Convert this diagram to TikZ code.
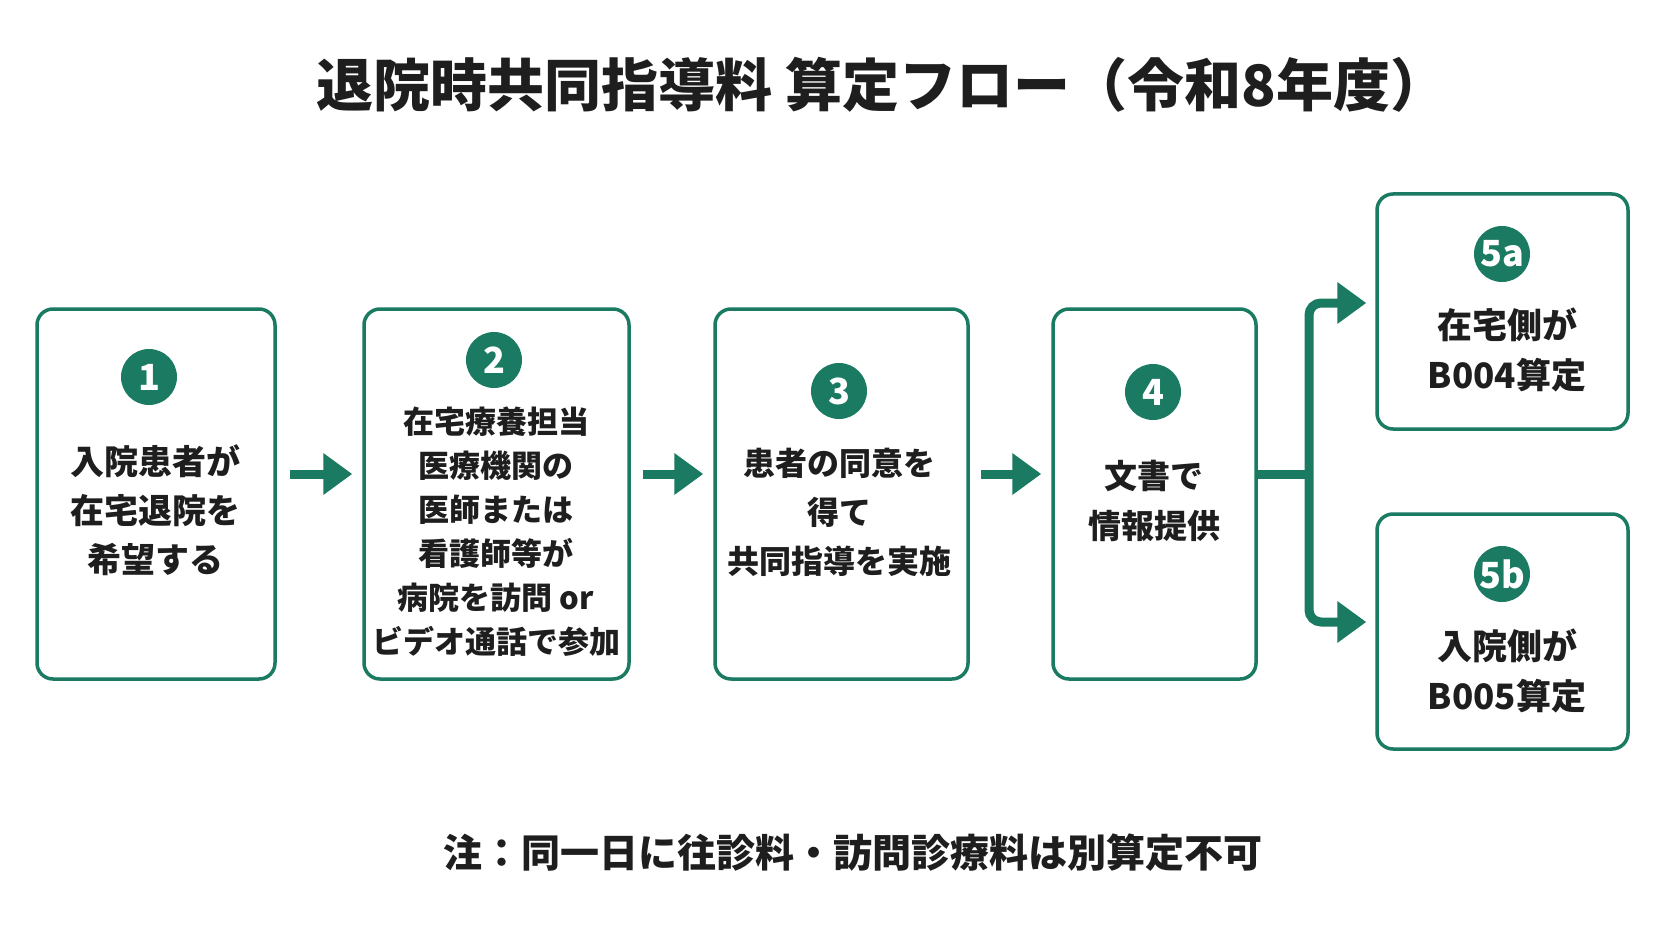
\documentclass[tikz,border=0pt]{standalone}
\usepackage{fontspec}
\setmainfont{Noto Sans CJK JP}
\usetikzlibrary{arrows.meta}
\definecolor{grn}{RGB}{26,122,98}
\definecolor{ink}{RGB}{30,30,30}
\tikzset{
  stepbox/.style={draw=grn, line width=3.5pt, rounded corners=16pt, fill=white},
  num/.style={circle, fill=grn, text=white, minimum size=56pt, inner sep=0pt,
    font=\bfseries\fontsize{36}{36}\selectfont},
  txt/.style={text=ink, align=center, inner sep=0pt},
  conn/.style={draw=grn, line width=9pt},
  arr/.style={conn, -{Triangle[length=29pt,width=40pt]}},
}
\begin{document}
\begin{tikzpicture}[x=1pt,y=-1pt]
\useasboundingbox[fill=white] (0,0) rectangle (1672,941);
% title
\node[txt, font=\bfseries\fontsize{57}{57}\selectfont] (title) at (882,85) {退院時共同指導料 算定フロー（令和8年度）};
% boxes
\node[stepbox, minimum width=238pt, minimum height=370pt] (b1) at (156,494) {};
\node[stepbox, minimum width=265pt, minimum height=370pt] (b2) at (496.5,494) {};
\node[stepbox, minimum width=253pt, minimum height=370pt] (b3) at (841.5,494) {};
\node[stepbox, minimum width=203pt, minimum height=370pt] (b4) at (1154.5,494) {};
\node[stepbox, minimum width=251pt, minimum height=235pt] (b5a) at (1502.5,311.5) {};
\node[stepbox, minimum width=251pt, minimum height=235pt] (b5b) at (1502.5,631.5) {};
% numbers
\node[num] (n1) at (149,377) {1};
\node[num] (n2) at (494,360) {2};
\node[num] (n3) at (839,391) {3};
\node[num] (n4) at (1153,392) {4};
\node[num] (n5a) at (1502,254) {5a};
\node[num] (n5b) at (1502,574) {5b};
% texts
\node[txt, font=\bfseries\fontsize{34}{49}\selectfont] (t1) at (155,510) {入院患者が\\在宅退院を\\希望する};
\node[txt, font=\bfseries\fontsize{31}{44}\selectfont] (t2) at (496,532) {在宅療養担当\\医療機関の\\医師または\\看護師等が\\病院を訪問 or\\ビデオ通話で参加};
\node[txt, font=\bfseries\fontsize{32}{49}\selectfont] (t3) at (839,512) {患者の同意を\\得て\\共同指導を実施};
\node[txt, font=\bfseries\fontsize{33}{50}\selectfont] (t4) at (1154,501) {文書で\\情報提供};
\node[txt, font=\bfseries\fontsize{35}{50}\selectfont] (t5a) at (1507,350) {在宅側が\\B004算定};
\node[txt, font=\bfseries\fontsize{35}{50}\selectfont] (t5b) at (1507,671) {入院側が\\B005算定};
% arrows
\draw[arr, shorten <=13pt, shorten >=10pt] ([yshift=20pt]b1.east) -- ([yshift=20pt]b2.west);
\draw[arr, shorten <=12pt, shorten >=10pt] ([yshift=20pt]b2.east) -- ([yshift=20pt]b3.west);
\draw[arr, shorten <=11pt, shorten >=10pt] ([yshift=20pt]b3.east) -- ([yshift=20pt]b4.west);
\coordinate (fork) at (1309,474);
\draw[conn] ([yshift=20pt]b4.east) -- (fork);
\draw[arr, rounded corners=12pt, shorten >=9pt] (fork) |- ([yshift=8.5pt]b5a.west);
\draw[arr, rounded corners=12pt, shorten >=9pt] (fork) |- ([yshift=9.5pt]b5b.west);
% note
\node[txt, font=\bfseries\fontsize{39}{39}\selectfont] (note) at (853,853) {注：同一日に往診料・訪問診療料は別算定不可};
\end{tikzpicture}
\end{document}
